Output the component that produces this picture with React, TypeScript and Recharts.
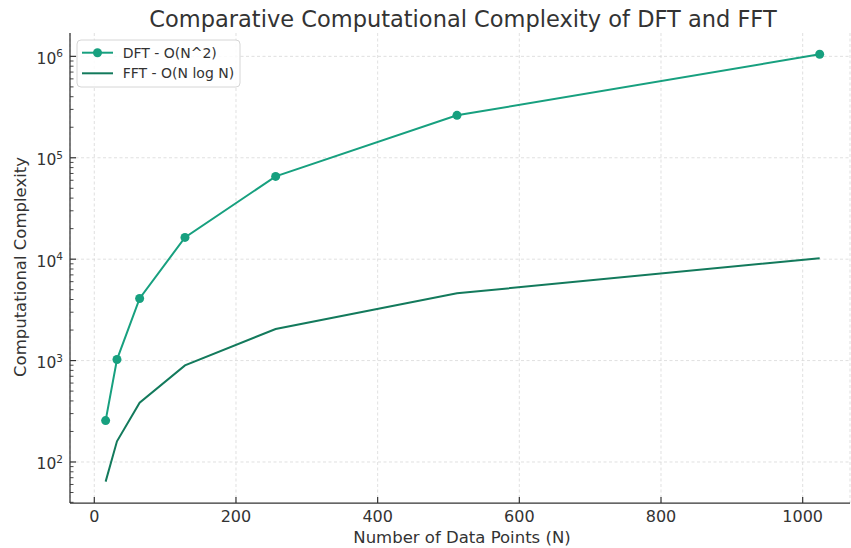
import { LineChart, Line, XAxis, YAxis, CartesianGrid, ReferenceLine } from "recharts";

const sizes = [16, 32, 64, 128, 256, 512, 1024];
const dftOps = [256, 1024, 4096, 16384, 65536, 262144, 1048576];
const fftOps = [64, 160, 384, 896, 2048, 4608, 10240];

const xTicks = [0, 200, 400, 600, 800, 1000];
const yMajor = [100, 1000, 10000, 100000, 1000000];
const yMinor = [
  40, 50, 60, 70, 80, 90,
  200, 300, 400, 500, 600, 700, 800, 900,
  2000, 3000, 4000, 5000, 6000, 7000, 8000, 9000,
  20000, 30000, 40000, 50000, 60000, 70000, 80000, 90000,
  200000, 300000, 400000, 500000, 600000, 700000, 800000, 900000,
];

const DFT_COLOR = "#17a07f";
const FFT_COLOR = "#137a5c";
const FONT = "DejaVu Sans, sans-serif";
const GRID = "#d3d3d3";

const data = sizes.map((n, i) => ({ n, dft: dftOps[i], fft: fftOps[i] }));

function YTick(props: any) {
  const { x, y, payload } = props;
  const v = payload.value;
  const major = yMajor.includes(v);
  return (
    <g>
      <line x1={x} x2={x + (major ? 6 : 3.5)} y1={y} y2={y} stroke="#333" strokeWidth={major ? 1.2 : 0.9} />
      {major && (
        <text x={x - 7} y={y + 7.5} textAnchor="end" fontSize={15.5} fill="#333" fontFamily={FONT}>
          10
          <tspan dy={-6.5} fontSize={10.5}>
            {Math.round(Math.log10(v))}
          </tspan>
        </text>
      )}
    </g>
  );
}

function XTick(props: any) {
  const { x, y, payload } = props;
  return (
    <g>
      <line x1={x} x2={x} y1={y} y2={y - 6} stroke="#333" strokeWidth={1.2} />
      <text x={x} y={y + 19} textAnchor="middle" fontSize={16} fill="#333" fontFamily={FONT}>
        {payload.value}
      </text>
    </g>
  );
}

export default function App() {
  return (
    <div style={{ position: "absolute", left: 0, top: 0, width: 851, height: 548, background: "#fff" }}>
      <LineChart width={851} height={548} data={data} margin={{ top: 33, right: 1, left: 0, bottom: 0 }}>
        <CartesianGrid horizontal={false} stroke={GRID} strokeDasharray="3 2.5" strokeWidth={0.7} />
        {yMajor.map((v) => (
          <ReferenceLine key={v} y={v} stroke={GRID} strokeDasharray="3 2.5" strokeWidth={0.7} />
        ))}
        <XAxis
          dataKey="n"
          type="number"
          domain={[-34.3, 1066.8]}
          allowDataOverflow
          ticks={xTicks}
          height={45}
          tickSize={0}
          tickMargin={0}
          tick={<XTick />}
          stroke="#333"
          strokeWidth={1.25}
        />
        <YAxis
          type="number"
          scale="log"
          domain={[39.4, 1.7e6]}
          allowDataOverflow
          ticks={[...yMajor, ...yMinor]}
          width={70}
          tickSize={0}
          tickMargin={0}
          tick={<YTick />}
          interval={0}
          stroke="#333"
          strokeWidth={1.25}
        />
        <Line
          dataKey="dft"
          stroke={DFT_COLOR}
          strokeWidth={2}
          dot={{ r: 4.5, fill: DFT_COLOR, stroke: "none" }}
          isAnimationActive={false}
        />
        <Line dataKey="fft" stroke={FFT_COLOR} strokeWidth={2} dot={false} isAnimationActive={false} />
      </LineChart>
      <svg
        width={851}
        height={548}
        style={{ position: "absolute", left: 0, top: 0, pointerEvents: "none" }}
        fontFamily={FONT}
      >
        <text x={463} y={27} textAnchor="middle" fontSize={22.5} fill="#333">
          Comparative Computational Complexity of DFT and FFT
        </text>
        <text x={462} y={543} textAnchor="middle" fontSize={16.5} fill="#333">
          Number of Data Points (N)
        </text>
        <text x={25.5} y={267} textAnchor="middle" fontSize={16.5} fill="#333" transform="rotate(-90 25.5 267)">
          Computational Complexity
        </text>
        <rect x={77} y={40} width={163} height={47} rx={4} fill="#fff" fillOpacity={0.85} stroke="#d6d6d6" />
        <line x1={82} x2={113} y1={52.7} y2={52.7} stroke={DFT_COLOR} strokeWidth={2} />
        <circle cx={97.5} cy={52.7} r={4.5} fill={DFT_COLOR} />
        <text x={122.7} y={57.7} fontSize={14} fill="#333">
          DFT - O(N^2)
        </text>
        <line x1={82} x2={113} y1={73.3} y2={73.3} stroke={FFT_COLOR} strokeWidth={2} />
        <text x={122.7} y={78.3} fontSize={14} fill="#333">
          FFT - O(N log N)
        </text>
      </svg>
    </div>
  );
}
